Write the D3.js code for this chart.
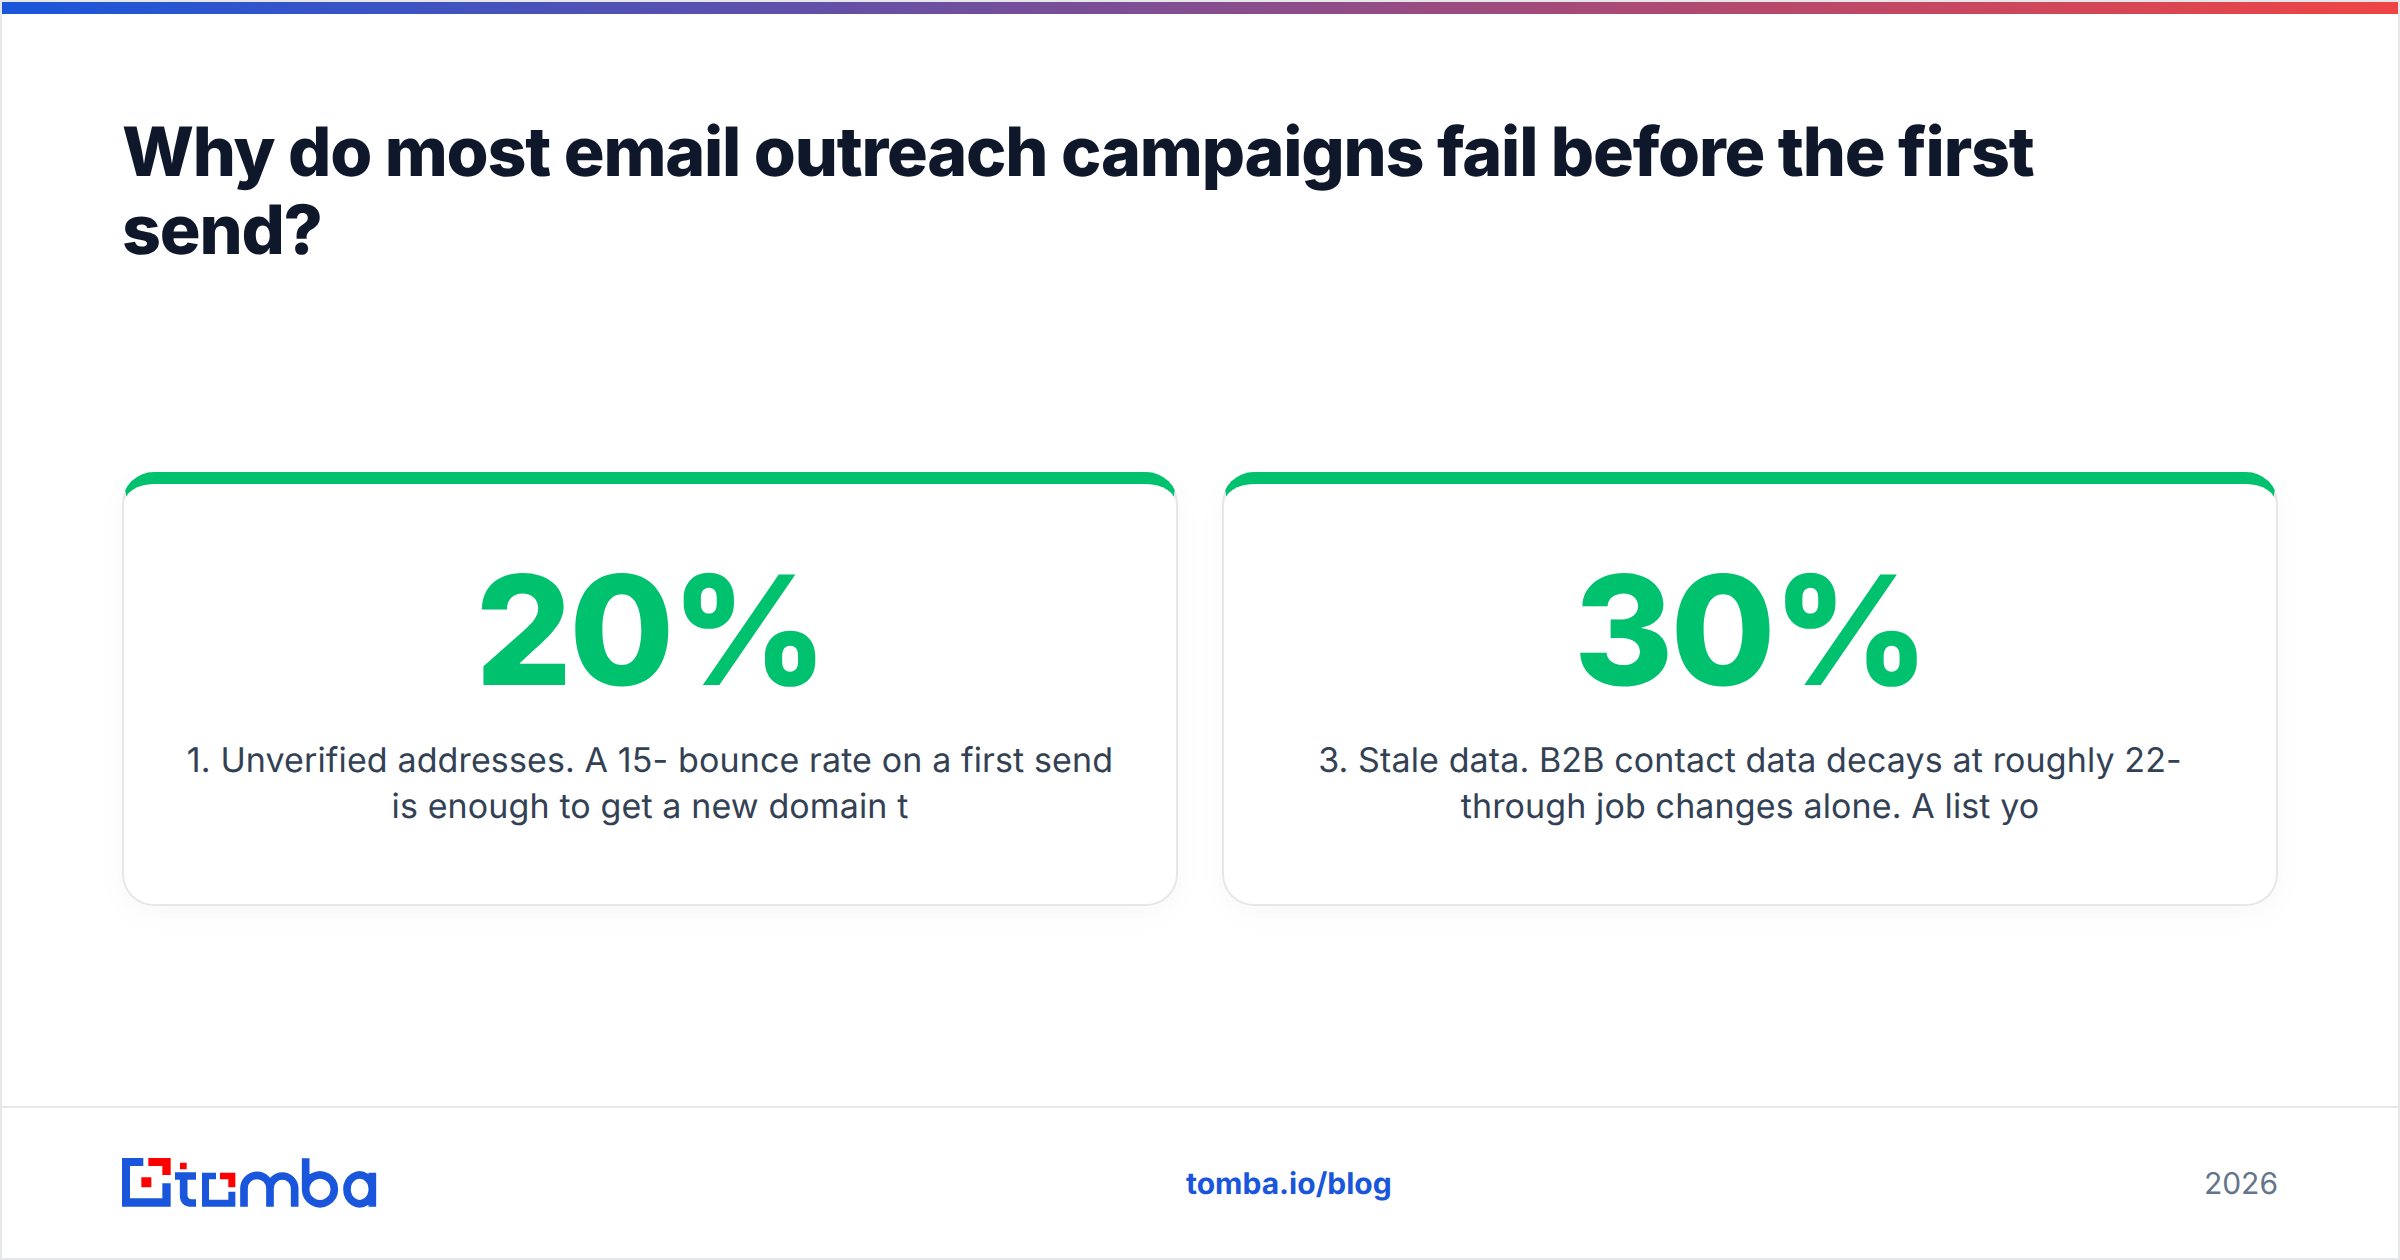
<!DOCTYPE html>
<html>
<head>
<meta charset="utf-8">
<script src="https://cdn.jsdelivr.net/npm/d3@7"></script>
<style>
  html, body { margin: 0; padding: 0; background: #fff; }
  body { width: 2400px; height: 1260px; position: relative; overflow: hidden; font-family: Inter, sans-serif; text-rendering: geometricPrecision; }
  #frame { position: absolute; left: 0; top: 0; width: 2396px; height: 1256px; border: 2px solid #e5e7eb; }
  #topbar { position: absolute; left: 2px; top: 2px; width: 2396px; height: 12px; background: linear-gradient(90deg, #1a56db, #ef4444); }
  .title { position: absolute; left: 122px; color: #0f172a; font-size: 68px; font-weight: 800; line-height: 78px; letter-spacing: -1.2px; white-space: nowrap; }
  .card { position: absolute; top: 472px; height: 434px; box-sizing: border-box; background: #fff; border: 2px solid #e5e7eb; border-top: 12px solid #00c16e; border-radius: 32px; box-shadow: 0 8px 32px rgba(15, 23, 42, 0.03); text-align: center; }
  .stat { position: absolute; left: 0; right: 0; top: 66px; color: #00c16e; font-size: 152px; font-weight: 800; line-height: 160px; letter-spacing: -3.04px; }
  .caption { position: absolute; left: 0; right: 0; color: #334155; font-size: 34px; font-weight: 400; line-height: 46px; letter-spacing: 0.12px; white-space: nowrap; }
  #rule { position: absolute; left: 2px; top: 1106px; width: 2396px; height: 2px; background: #e5e7eb; }
  .foot { position: absolute; top: 1165px; line-height: 38px; font-size: 30px; white-space: nowrap; }
  #logo { position: absolute; left: 80px; top: 1130px; }
</style>
</head>
<body>
<script>
  const titleLines = ['Why do most email outreach campaigns fail before the first', 'send?'];
  const statValues = [20, 30];
  const captionLines = [
    ['1. Unverified addresses. A 15- bounce rate on a first send', 'is enough to get a new domain t'],
    ['3. Stale data. B2B contact data decays at roughly 22-', 'through job changes alone. A list yo'],
  ];
  const footerLink = 'tomba.io/blog';
  const footerYear = '2026';

  const body = d3.select('body');
  body.append('div').attr('id', 'frame');
  body.append('div').attr('id', 'topbar');
  body.append('div').attr('id', 'rule');

  body.selectAll('.title')
    .data(titleLines)
    .enter()
    .append('div')
    .attr('class', 'title')
    .style('top', (d, i) => `${113 + i * 78}px`)
    .text((d) => d);

  // cards sit in a band scale over the content width
  const x = d3.scaleBand()
    .domain(d3.range(statValues.length))
    .range([122, 2278])
    .paddingInner(0.04);

  const card = body.selectAll('.card')
    .data(statValues)
    .enter()
    .append('div')
    .attr('class', 'card')
    .style('left', (d, i) => `${x(i)}px`)
    .style('width', `${x.bandwidth()}px`);

  card.append('div')
    .attr('class', 'stat')
    .text((d) => `${d}%`);

  card.each(function (d, i) {
    d3.select(this).selectAll('.caption')
      .data(captionLines[i])
      .enter()
      .append('div')
      .attr('class', 'caption')
      .style('top', (l, j) => `${254 + j * 46}px`)
      .text((l) => l);
  });

  body.append('div')
    .attr('class', 'foot')
    .style('left', '1186px')
    .style('color', '#1a56db')
    .style('font-weight', 700)
    .text(footerLink);

  body.append('div')
    .attr('class', 'foot')
    .style('right', '122px')
    .style('color', '#64748b')
    .text(footerYear);

  // logo, in the coordinates of a 3x crop
  const blue = '#1a56db';
  const red = '#ff0000';
  const logo = body.append('svg')
    .attr('id', 'logo')
    .attr('width', 340)
    .attr('height', 110)
    .attr('viewBox', '0 0 1020 330');

  logo.append('path')
    .attr('fill', blue)
    .attr('d', 'M126 84H190V108H150V205H247V160H272V230H126Z');
  logo.append('path')
    .attr('fill', red)
    .attr('d', 'M205 84H272V135H247V108H205ZM184 142H214V172H184ZM300 98H320V118H300Z');
  logo.append('path')
    .attr('fill', blue)
    .attr('d', 'M366 128H408V148H387V209H445V185H466V230H366Z');
  logo.append('path')
    .attr('fill', red)
    .attr('d', 'M420 128H466V172H445V148H420Z');
  logo.append('path')
    .attr('fill', 'none')
    .attr('stroke', blue)
    .attr('stroke-width', 23)
    .attr('d', [
      'M311 128V195Q311 219 335 219H348M285 138H348',
      'M492 230V175A39 39 0 0 1 570 175V230M570 175A37 37 0 0 1 644 175V230',
      'M677 85V178',
      'M763 178A43 43 0 1 1 763 177.9',
      'M877 178A38 43 0 1 1 877 177.9M877 128V230',
    ].join(''));
</script>
</body>
</html>
